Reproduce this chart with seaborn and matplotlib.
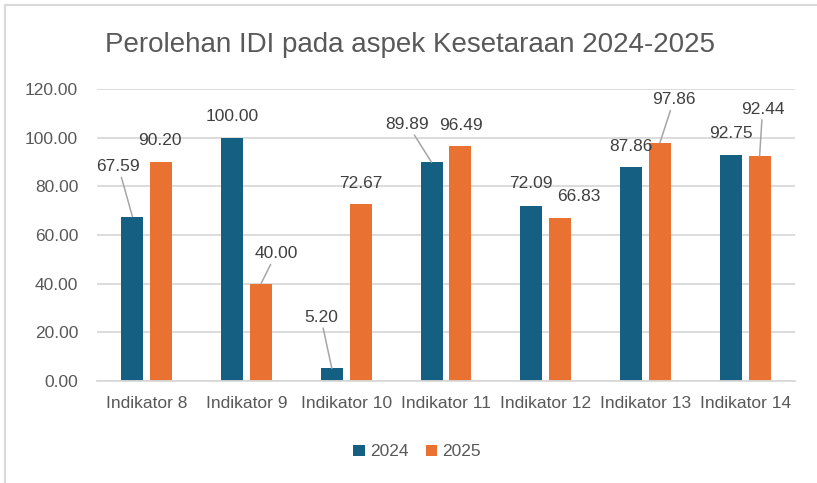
import numpy as np
import pandas as pd
import matplotlib
matplotlib.use('Agg')
import matplotlib.pyplot as plt
from matplotlib.patches import Rectangle
import seaborn as sns

# data
indikator = ['Indikator 8', 'Indikator 9', 'Indikator 10', 'Indikator 11',
             'Indikator 12', 'Indikator 13', 'Indikator 14']
nilai_2024 = [67.59, 100.00, 5.20, 89.89, 72.09, 87.86, 92.75]
nilai_2025 = [90.20, 40.00, 72.67, 96.49, 66.83, 97.86, 92.44]
tahun = ['2024', '2025']
yticks = [0, 20, 40, 60, 80, 100, 120]

df = pd.DataFrame({
    'indikator': indikator * 2,
    'nilai': nilai_2024 + nilai_2025,
    'tahun': ['2024'] * len(indikator) + ['2025'] * len(indikator),
})

# label offsets in pixels (dx, dy up) and whether a leader line is drawn
label_pos = {
    '2024': [(-14, 50, True), (0, 21, False), (-11, 51, True), (-24, 38, True),
             (0, 22, False), (0, 21, False), (0, 22, False)],
    '2025': [(-1, 21, False), (15, 30, True), (0, 21, False), (0, 21, False),
             (19, 22, False), (14, 43, True), (3, 47, True)],
}

BLUE = '#156082'
ORANGE = '#E97132'
GRAY_TXT = '#595959'
GRID = '#D9D9D9'

sns.set_style('white')
plt.rcParams['font.family'] = ['Liberation Sans', 'DejaVu Sans']

W, H = 817, 483
fig = plt.figure(figsize=(W / 100, H / 100), dpi=100)
ax = fig.add_axes([97 / W, 102 / H, 698 / W, 292 / H])

sns.barplot(data=df, x='indikator', y='nilai', hue='tahun', hue_order=tahun,
            palette=[BLUE, ORANGE], saturation=1, width=0.58, gap=0.24,
            linewidth=0, ax=ax)

ax.set_ylim(0, 120)
ax.set_xlim(-0.5, 6.5)
ax.set_yticks(yticks)
ax.set_yticklabels(['{:.2f}'.format(v) for v in yticks])
ax.set_xlabel('')
ax.set_ylabel('')
ax.yaxis.grid(True, color=GRID, lw=1.3)
ax.set_axisbelow(True)
for s in ['top', 'right', 'left']:
    ax.spines[s].set_visible(False)
ax.spines['bottom'].set_color(GRID)
ax.spines['bottom'].set_linewidth(1.3)
ax.tick_params(axis='both', length=0, labelsize=12.5, labelcolor=GRAY_TXT)
ax.tick_params(axis='y', pad=13.5)
ax.tick_params(axis='x', pad=11)

# data labels
for k, th in enumerate(tahun):
    for i, bar in enumerate(ax.containers[k]):
        xc = bar.get_x() + bar.get_width() / 2
        h = bar.get_height()
        dx, dy, leader = label_pos[th][i]
        arrow = dict(arrowstyle='-', color='#A6A6A6', lw=1.1,
                     shrinkA=0, shrinkB=0) if leader else None
        ax.annotate('{:.2f}'.format(h), xy=(xc, h), xytext=(dx, dy),
                    textcoords='offset pixels', ha='center', va='center',
                    fontsize=12.5, color='#404040', arrowprops=arrow,
                    annotation_clip=False)

# legend
handles, labels = ax.get_legend_handles_labels()
ax.legend(handles, labels, loc='center', bbox_to_anchor=(417 / W, 1 - 452 / H),
          bbox_transform=fig.transFigure, ncol=2, frameon=False,
          handlelength=0.67, handleheight=0.67, handletextpad=0.3,
          columnspacing=1.0, fontsize=12.5, labelcolor=GRAY_TXT)

fig.text(410 / W, 1 - 45 / H, 'Perolehan IDI pada aspek Kesetaraan 2024-2025',
         ha='center', va='center', fontsize=20, color=GRAY_TXT)

# chart border
fig.patches.append(Rectangle((5 / W, -0.1), 1.2, 1.1 - 4.5 / H,
                             transform=fig.transFigure, fill=False,
                             edgecolor=GRID, lw=1.5))

fig.savefig('out.png', dpi=100)
